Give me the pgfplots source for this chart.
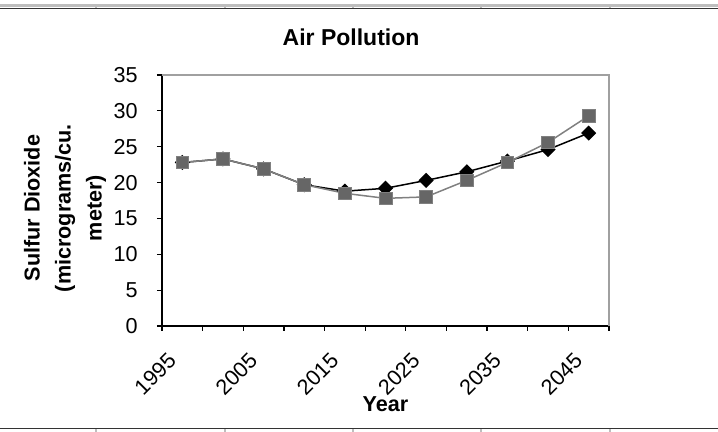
\documentclass[border=0pt]{standalone}
\usepackage{pgfplots}
\pgfplotsset{compat=1.18}
\usepackage{fontspec}
\setmainfont{Liberation Sans}
\definecolor{sqfill}{RGB}{102,102,102}
\definecolor{sqline}{RGB}{128,128,128}
\definecolor{borderg}{RGB}{160,160,160}
\definecolor{cellg}{RGB}{190,190,190}
\begin{document}
\begin{tikzpicture}[x=1pt,y=1pt]
\useasboundingbox (0,0) rectangle (359,216);
% sheet cell borders
\draw[cellg, line width=1.5pt] (0,213.25) -- (359,213.25);
\draw[black!80, line width=0.65pt] (0,211.6) -- (359,211.6);
\draw[black!80, line width=0.65pt] (0,1.75) -- (359,1.75);
\foreach \xx in {48,112.5,176.5,240.5,305} {
  \draw[cellg, line width=1pt] (\xx,212) -- (\xx,213);
  \draw[cellg, line width=1pt] (\xx,0) -- (\xx,1.3);
}
\begin{axis}[
  at={(81pt,53pt)}, anchor=south west,
  scale only axis, width=223.5pt, height=125.5pt,
  xmin=-0.5, xmax=10.5, ymin=0, ymax=35,
  axis lines*=left,
  axis line style={black, line width=0.7pt},
  xtick={0,2,4,6,8,10},
  xticklabels={1995,2005,2015,2025,2035,2045},
  minor xtick={-0.5,0.5,...,10.5},
  major x tick style={draw=none},
  minor x tick style={black, line width=0.6pt},
  ytick={0,5,...,35},
  y tick style={black, line width=0.6pt},
  tick align=outside,
  major tick length=2.5pt, minor tick length=2.5pt,
  tick label style={font=\fontsize{10.8}{12}\selectfont},
  /pgf/number format/assume math mode=true,
  xticklabel style={xshift=-2.6pt, yshift=-10.6pt, rotate=45, anchor=east},
  yticklabel style={xshift=-6.2pt},
  ylabel={Sulfur Dioxide\\(micrograms/cu.\\meter)},
  ylabel style={at={(axis description cs:-0.217,0.47)}, anchor=center, rotate=0, align=center, font=\fontsize{10.8}{15.5}\selectfont\bfseries},
  xlabel={Year},
  xlabel style={at={(axis description cs:0.5,-0.311)}, anchor=center, font=\fontsize{10.8}{13}\selectfont\bfseries},
  every axis title shift=0pt,
  title={Air Pollution},
  title style={at={(axis description cs:0.423,1.151)}, anchor=center, font=\fontsize{11.5}{14}\selectfont\bfseries},
  clip=false,
]
\draw[borderg, line width=0.75pt] (rel axis cs:0,1) -- (rel axis cs:1,1) -- (rel axis cs:1,0);
\addplot[black, line width=0.75pt, mark=square*, mark size=2.3pt, mark options={rotate=45, fill=black, draw=black}]
  coordinates {(0,22.8) (1,23.3) (2,21.9) (3,19.7) (4,18.8) (5,19.2) (6,20.3) (7,21.5) (8,23.0) (9,24.6) (10,26.9)};
\addplot[sqline, line width=0.75pt, mark=square*, mark size=3.2pt, mark options={fill=sqfill, draw=sqline, line width=0.4pt}]
  coordinates {(0,22.8) (1,23.3) (2,21.9) (3,19.7) (4,18.5) (5,17.8) (6,18.0) (7,20.3) (8,22.8) (9,25.6) (10,29.3)};
\end{axis}
\end{tikzpicture}
\end{document}
